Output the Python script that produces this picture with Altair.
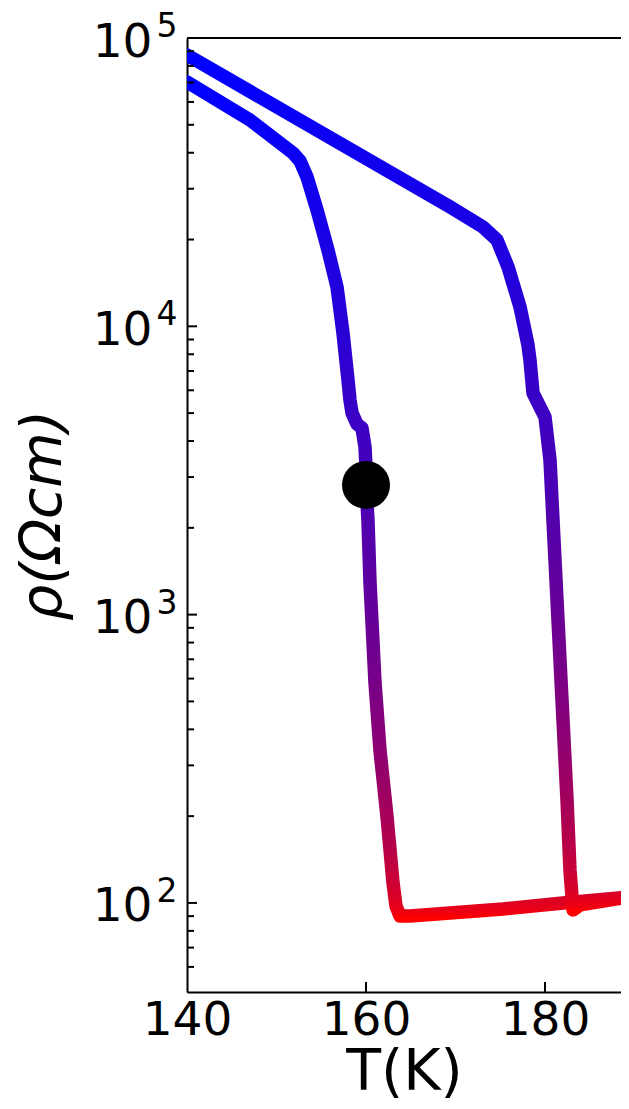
import math
import altair as alt
import pandas as pd

# ---- data ----
# cooling branch (transition near 163 K)
T_cool = [140.0, 147.04, 151.84, 152.63, 153.41, 154.53, 155.75, 156.76, 157.43, 157.99,
          158.21, 158.44, 158.99, 159.55, 159.89, 160.0, 160.0, 160.22, 160.45, 161.01,
          161.56, 162.35, 163.02, 163.35, 163.8, 164.92, 175.31, 182.01, 189.39]
rho_cool = [70400, 51950, 39920, 37450, 32960, 25320, 18400, 13690, 9480, 6515,
            5553, 5005, 4585, 4440, 3815, 3252, 2817, 2130, 1287, 579,
            339, 198.8, 117.3, 97.6, 90.1, 90.1, 95.3, 100.0, 104.9]

# heating branch (transition near 183 K)
T_heat = [140.0, 169.39, 173.07, 174.64, 175.87, 177.21, 178.1, 178.32, 178.66, 180.0,
          180.56, 180.78, 181.34, 181.9, 182.46, 182.79, 183.13, 183.91, 189.39]
rho_heat = [87300, 25940, 22110, 19930, 16060, 11670, 8613, 7641, 5873, 4848,
            3440, 2498, 1124, 505.8, 227.6, 130.2, 94.6, 98.4, 104.9]

# marked point
T_dot = [160.0]
rho_dot = [2817]

# axis ticks
x_labels = [140, 160, 180]
x_major = [160, 180]
y_major = [100, 1000, 10000, 100000]
y_exp = ["2", "3", "4", "5"]
y_minor = [60, 70, 80, 90, 200, 300, 400, 500, 600, 700, 800, 900,
           2000, 3000, 4000, 5000, 6000, 7000, 8000, 9000,
           20000, 30000, 40000, 50000, 60000, 70000, 80000, 90000]

# colour ramp: each curve goes from red (its lowest rho) to blue (its highest rho)
COL_LOW = (255, 0, 0)
COL_HIGH = (0, 0, 255)
N_STOPS = 24


def gradient(rhos):
    # pixel offsets inside the line's box are linear in log(rho);
    # the colour mix follows the square root of that position
    stops = []
    for k in range(N_STOPS, -1, -1):
        v = k / N_STOPS
        u = v * v
        c = tuple(round(COL_LOW[j] + (COL_HIGH[j] - COL_LOW[j]) * v) for j in range(3))
        stops.append({"offset": 1 - u, "color": "#%02x%02x%02x" % c})
    return {"gradient": "linear", "x1": 0, "y1": 0, "x2": 0, "y2": 1, "stops": stops}


W, H = 434, 954
FONT = "DejaVu Sans"
xs = alt.Scale(domain=[140, 140 + W / 8.95], nice=False, zero=False)
ys = alt.Scale(type="log", domain=[49.1, 100000], nice=False)

df_cool = pd.DataFrame({"T": T_cool, "rho": rho_cool, "i": range(len(T_cool))})
df_heat = pd.DataFrame({"T": T_heat, "rho": rho_heat, "i": range(len(T_heat))})
df_dot = pd.DataFrame({"T": T_dot, "rho": rho_dot})
df_ymaj = pd.DataFrame({"v": y_major, "e": y_exp})
df_ymin = pd.DataFrame({"v": y_minor})
df_xmaj = pd.DataFrame({"v": x_major})

xaxis = alt.Axis(values=x_labels, format="d", labelPadding=5, ticks=False,
                 titleY=97, titleBaseline="alphabetic")
yaxis = alt.Axis(values=y_major, labelExpr="'10'", labelPadding=35, ticks=False,
                 labelBaseline="alphabetic", labelOffset=18,
                 titleFontStyle="italic", titleX=-127, titleY=H / 2,
                 titleAngle=270, titleAlign="center", titleBaseline="alphabetic")

line_kw = dict(strokeWidth=13.5, strokeCap="round", strokeJoin="round", clip=True)

cool = alt.Chart(df_cool).mark_line(stroke=gradient(rho_cool), **line_kw).encode(
    x=alt.X("T:Q", scale=xs, axis=xaxis, title="T(K)"),
    y=alt.Y("rho:Q", scale=ys, axis=yaxis, title="ρ(Ωcm)"),
    order="i:Q",
)
heat = alt.Chart(df_heat).mark_line(stroke=gradient(rho_heat), **line_kw).encode(
    x=alt.X("T:Q", scale=xs, title="T(K)"),
    y=alt.Y("rho:Q", scale=ys, title="ρ(Ωcm)"),
    order="i:Q",
)
dot = alt.Chart(df_dot).mark_point(filled=True, shape="circle", size=2304, color="black",
                                   opacity=1).encode(
    x=alt.X("T:Q", scale=xs, title="T(K)"),
    y=alt.Y("rho:Q", scale=ys, title="ρ(Ωcm)"),
)
ymaj = alt.Chart(df_ymaj).mark_rule(color="black", strokeWidth=2).encode(
    y=alt.Y("v:Q", scale=ys, title="ρ(Ωcm)"), x=alt.value(0), x2=alt.value(10))
ymin = alt.Chart(df_ymin).mark_rule(color="black", strokeWidth=2).encode(
    y=alt.Y("v:Q", scale=ys, title="ρ(Ωcm)"), x=alt.value(0), x2=alt.value(7))
xmaj = alt.Chart(df_xmaj).mark_rule(color="black", strokeWidth=2).encode(
    x=alt.X("v:Q", scale=xs, title="T(K)"), y=alt.value(H), y2=alt.value(H - 10))
top = alt.Chart(df_xmaj).mark_rule(color="black", strokeWidth=2).encode(
    x=alt.value(0), x2=alt.value(W), y=alt.value(0))
yexp = alt.Chart(df_ymaj).mark_text(align="left", baseline="alphabetic", fontSize=33,
                                    font=FONT, color="black", dy=-1).encode(
    y=alt.Y("v:Q", scale=ys, title="ρ(Ωcm)"), x=alt.value(-30.5), text="e:N")

chart = alt.layer(cool, heat, dot, ymaj, ymin, xmaj, top, yexp).properties(
    width=W, height=H,
    padding={"left": 179, "top": 30, "right": 0, "bottom": 106},
    autosize="none",
).configure_view(stroke=None).configure(font=FONT).configure_axis(
    labelFontSize=47, labelFont=FONT, labelColor="black", tickSize=0,
    domainColor="black", domainWidth=2, labelFlush=False, labelOverlap=False,
    grid=False, titleFontSize=57, titleFont=FONT, titleFontWeight="normal",
    titleColor="black",
)

chart.save("out.html", embed_options={"renderer": "svg", "actions": False})
